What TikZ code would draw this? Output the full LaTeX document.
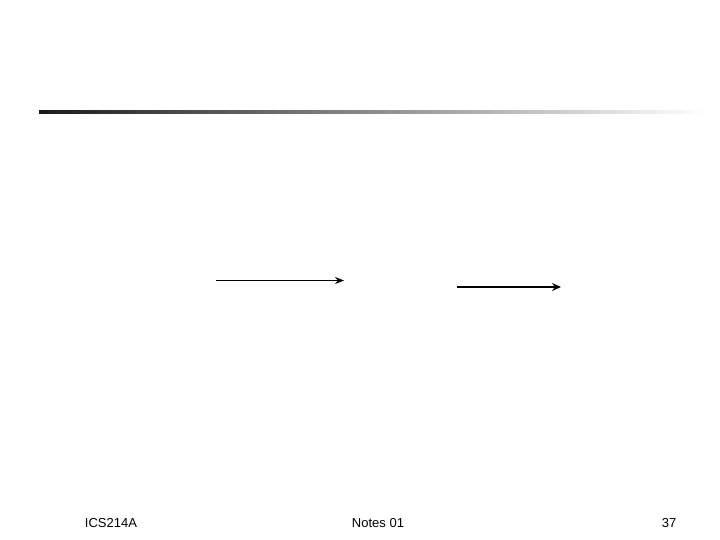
\documentclass[tikz,border=0pt]{standalone}
\usepackage{fontspec}
\setmainfont{Liberation Sans}
\usetikzlibrary{arrows.meta}
\begin{document}
\begin{tikzpicture}[x=1pt,y=-1pt,
    foot/.style={font=\fontsize{13}{15}\selectfont,inner sep=0pt},
    thinarrow/.style={line width=1pt,-{Stealth[length=9pt,width=7pt,inset=3pt]}},
    thickarrow/.style={line width=2pt,-{Stealth[length=9pt,width=8pt,inset=3pt]}}]
    \useasboundingbox[fill=white](0,0)rectangle(720,540);
    % title rule
    \shade[left color=black!90,right color=white](39,110.5)rectangle(705,113.5);
    % arrows
    \coordinate (a1s) at (216,280.5);
    \coordinate (a1e) at (344,280.5);
    \coordinate (a2s) at (457,287);
    \coordinate (a2e) at (561,287);
    \draw[thinarrow](a1s)--(a1e);
    \draw[thickarrow](a2s)--(a2e);
    % footer
    \node[foot] (course) at (111,523){ICS214A};
    \node[foot] (notes) at (378,523){Notes 01};
    \node[foot] (page) at (669,523){37};
\end{tikzpicture}
\end{document}
